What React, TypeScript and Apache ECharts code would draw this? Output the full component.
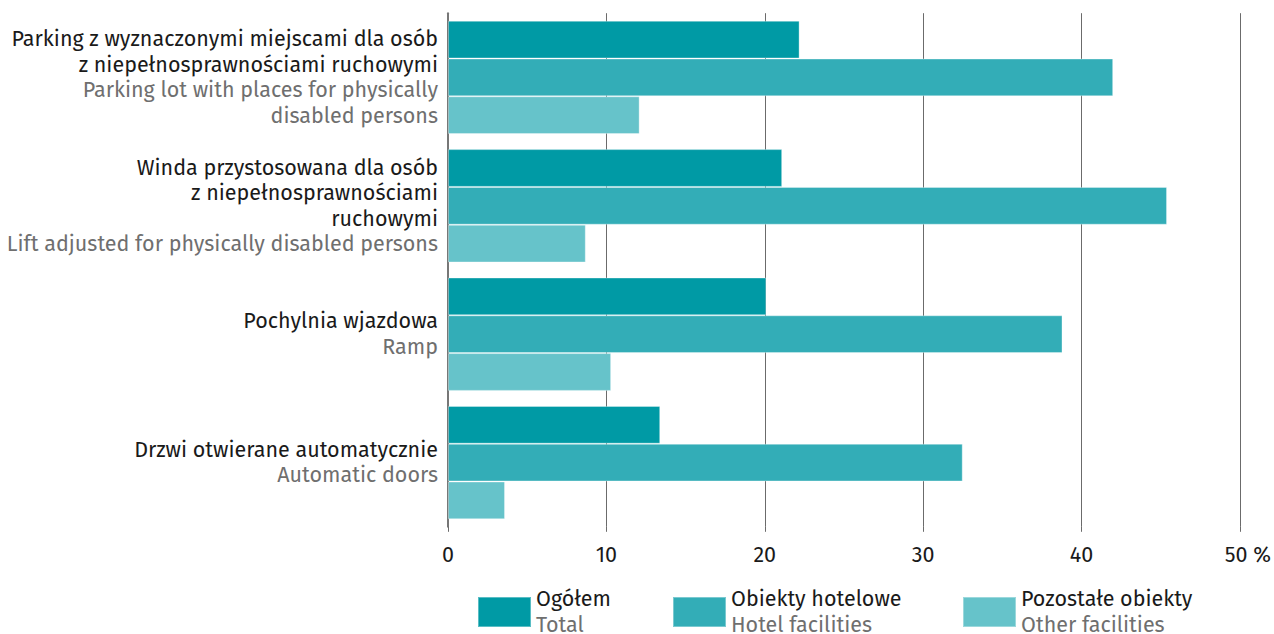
import React, { useEffect, useRef } from "react";
import * as echarts from "echarts";

const categoriesPl: string[][] = [
  ["Parking z wyznaczonymi miejscami dla osób", "z niepełnosprawnościami ruchowymi"],
  ["Winda przystosowana dla osób", "z niepełnosprawnościami", "ruchowymi"],
  ["Pochylnia wjazdowa"],
  ["Drzwi otwierane automatycznie"],
];
const categoriesEn: string[][] = [
  ["Parking lot with places for physically", "disabled persons"],
  ["Lift adjusted for physically disabled persons"],
  ["Ramp"],
  ["Automatic doors"],
];
const categoryKeys = ["parking", "winda", "pochylnia", "drzwi"];

const seriesNamesPl = ["Ogółem", "Obiekty hotelowe", "Pozostałe obiekty"];
const seriesNamesEn = ["Total", "Hotel facilities", "Other facilities"];

const totalValues = [22.2, 21.1, 20.1, 13.4];
const hotelValues = [42.0, 45.4, 38.8, 32.5];
const otherValues = [12.1, 8.7, 10.3, 3.6];

const xTicks = [0, 10, 20, 30, 40, 50];

const colors = ["#009aa5", "#33adb7", "#66c3ca"];
const FONT = "'Fira Sans', 'Noto Sans', 'Open Sans', sans-serif";
const FS = 21.5;

export default function App() {
  const ref = useRef<HTMLDivElement>(null);
  useEffect(() => {
    if (!ref.current) return;
    const chart = echarts.init(ref.current, undefined, { renderer: "svg" });
    const seriesData = [totalValues, hotelValues, otherValues];
    const legendLefts = [477, 672, 962];
    const option: any = {
      animation: false,
      textStyle: { fontFamily: FONT },
      grid: { left: 448, right: 33, top: 13.2, bottom: 107.2, containLabel: false },
      xAxis: {
        type: "value",
        min: xTicks[0],
        max: xTicks[xTicks.length - 1],
        interval: 10,
        axisLine: { show: false },
        axisTick: { show: true, length: 5, lineStyle: { color: "#6b6b6b", width: 1 } },
        splitLine: { show: true, lineStyle: { color: "#6b6b6b", width: 1 } },
        axisLabel: {
          margin: 17,
          fontSize: FS,
          color: "#1a1a1a",
          fontFamily: FONT,
          formatter: (v: number) => (v === 50 ? "{p|50 %}" : String(v)),
          rich: { p: { fontSize: FS, color: "#1a1a1a", fontFamily: FONT, padding: [0, 0, 0, 16] } },
        },
      },
      yAxis: {
        type: "category",
        inverse: true,
        data: categoryKeys,
        axisLine: { show: true, lineStyle: { color: "#777777", width: 2 } },
        axisTick: { show: false },
        axisLabel: {
          margin: 10,
          align: "right",
          formatter: (_v: string, idx: number) => {
            const pl = categoriesPl[idx].map((s) => `{a|${s}}`);
            const en = categoriesEn[idx].map((s) => `{b|${s}}`);
            return [...pl, ...en].join("\n");
          },
          rich: {
            a: { fontSize: FS, lineHeight: 25.5, color: "#1a1a1a", fontFamily: FONT, align: "right" },
            b: { fontSize: FS, lineHeight: 25.5, color: "#6f6f6f", fontFamily: FONT, align: "right" },
          },
        },
      },
      legend: seriesNamesPl.map((name, i) => ({
        data: [name],
        left: legendLefts[i],
        top: 588,
        padding: 0,
        icon: "rect",
        itemWidth: 53,
        itemHeight: 30,
        selectedMode: false,
        formatter: (n: string) => {
          const k = seriesNamesPl.indexOf(n);
          return `{a|${n}}\n{b|${seriesNamesEn[k]}}`;
        },
        textStyle: {
          rich: {
            a: { fontSize: FS, lineHeight: 26, color: "#1a1a1a", fontFamily: FONT },
            b: { fontSize: FS, lineHeight: 26, color: "#6f6f6f", fontFamily: FONT },
          },
        },
      })),
      series: seriesNamesPl.map((name, i) => ({
        name,
        type: "bar",
        data: seriesData[i],
        barGap: "0%",
        barCategoryGap: "11.7%",
        itemStyle: { color: colors[i], borderColor: "rgba(255,255,255,0.35)", borderWidth: 1 },
      })),
    };
    chart.setOption(option);
    return () => chart.dispose();
  }, []);
  return (
    <div
      ref={ref}
      style={{ position: "fixed", left: 0, top: 0, width: 1274, height: 634, background: "#fff" }}
    />
  );
}
